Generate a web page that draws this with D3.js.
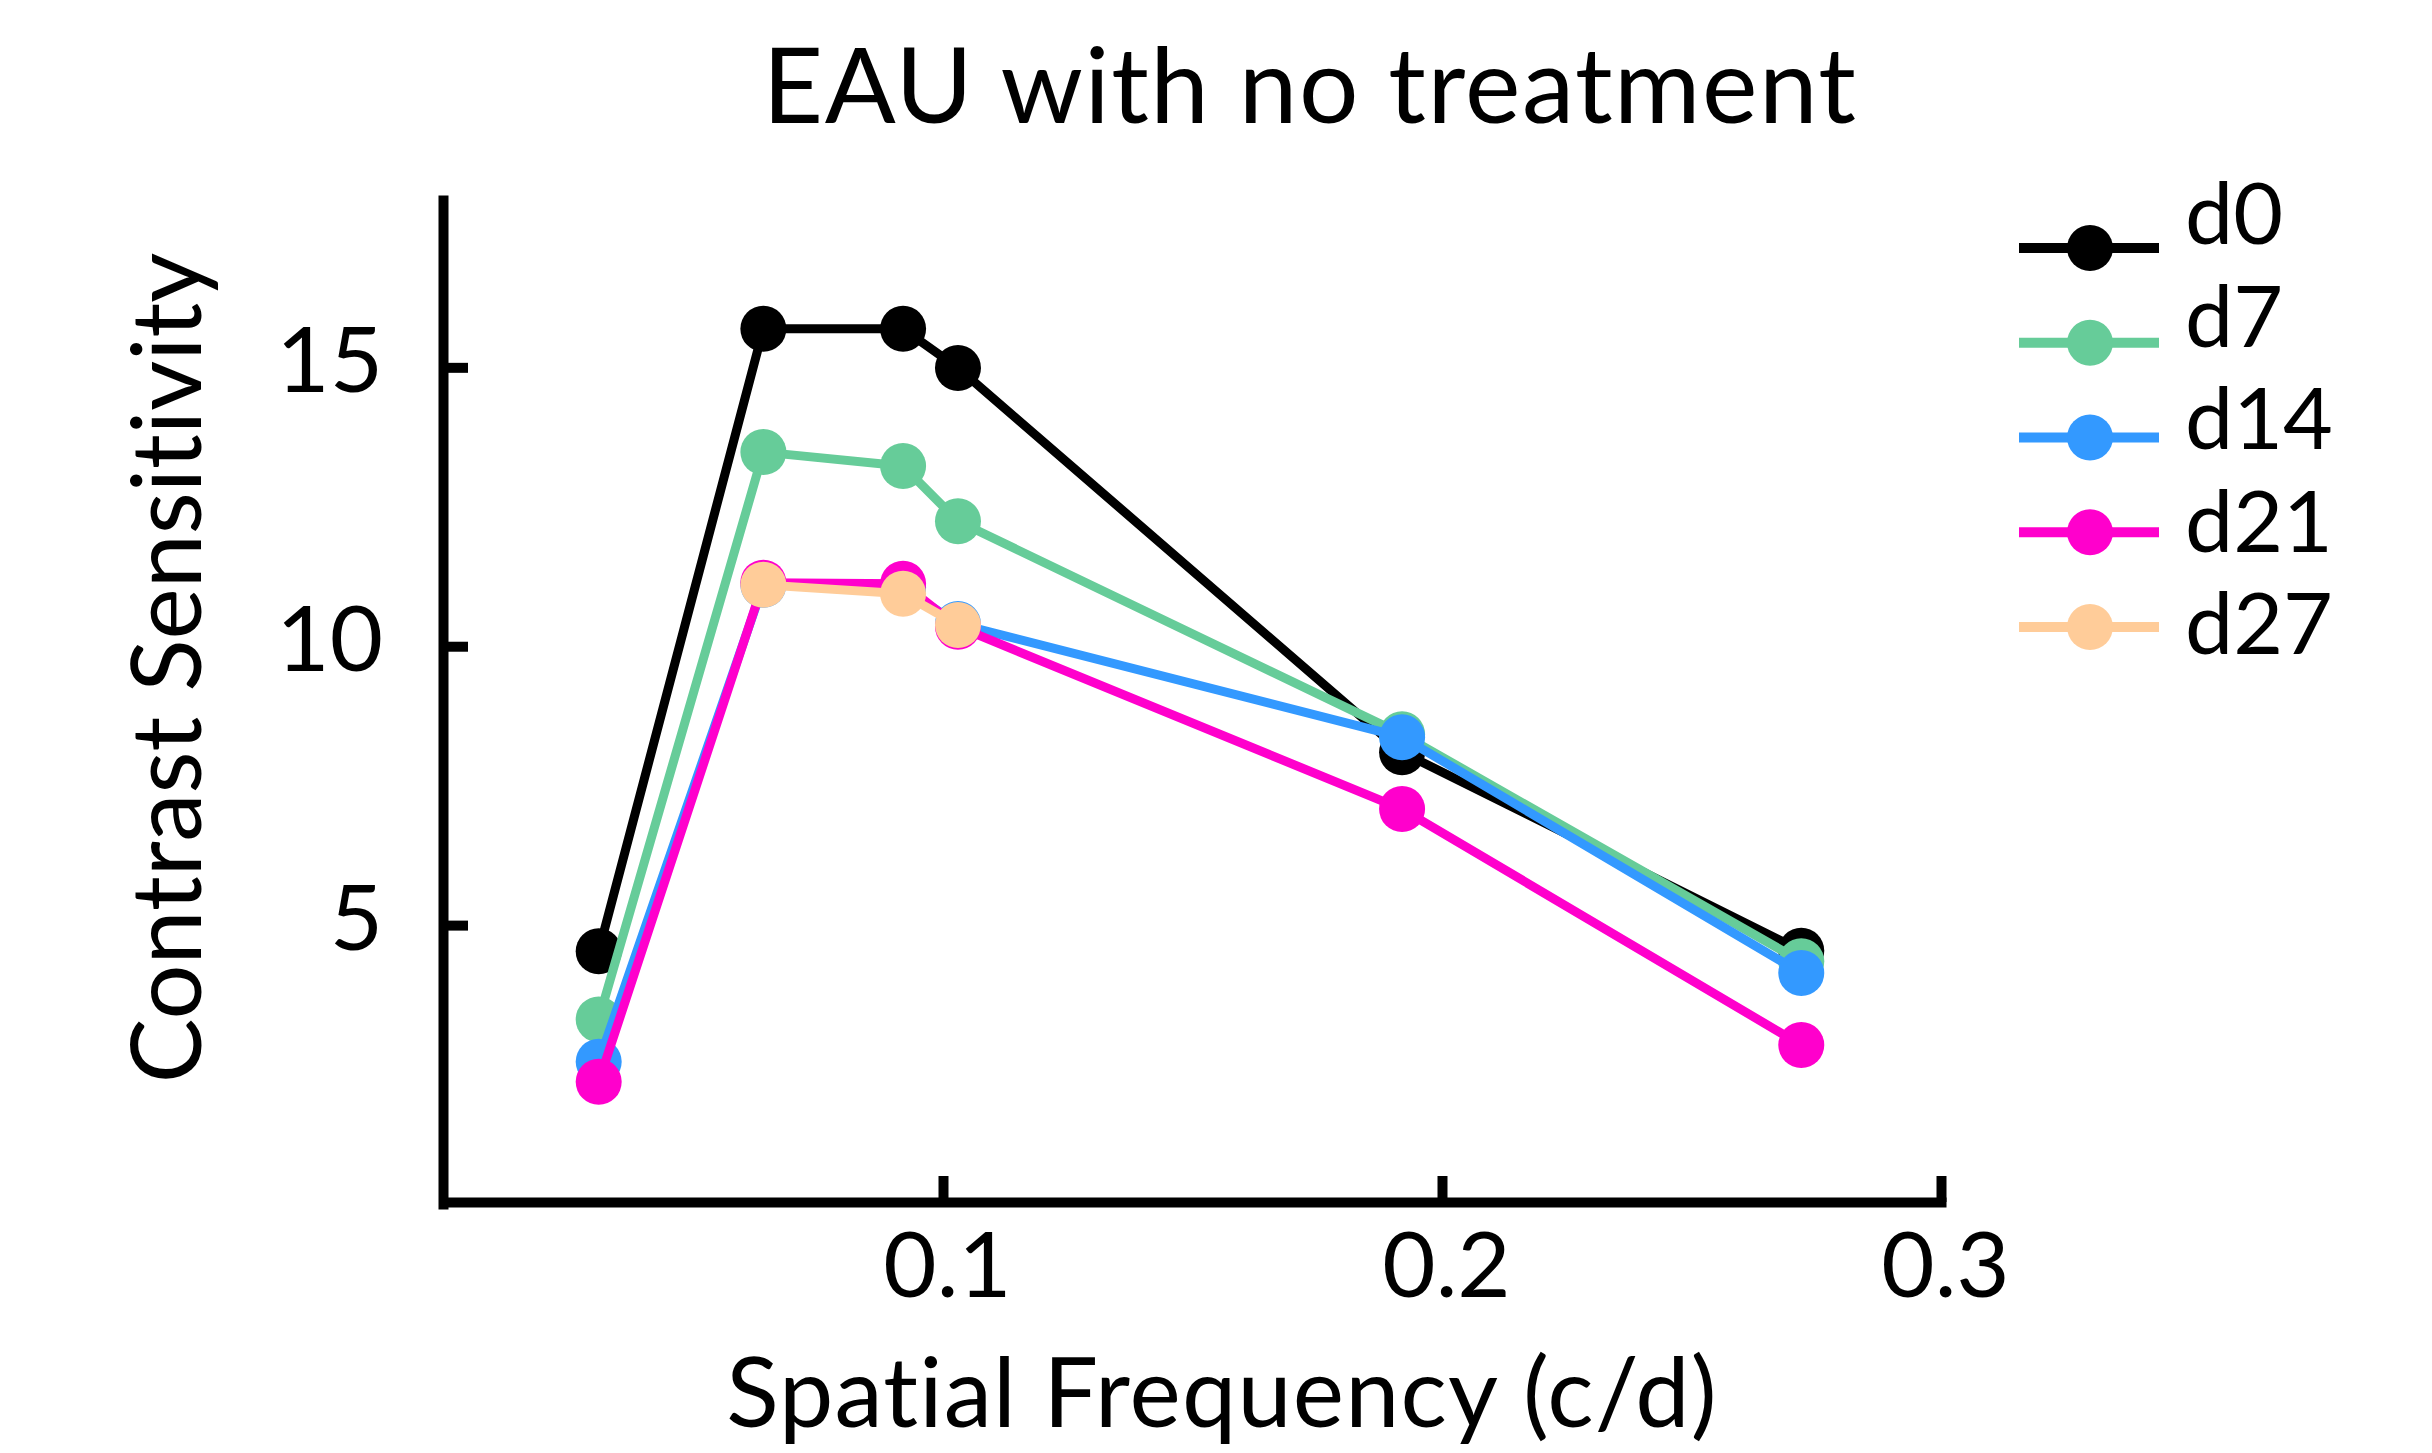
<!DOCTYPE html>
<html>
<head>
<meta charset="utf-8">
<script src="https://cdn.jsdelivr.net/npm/d3@7"></script>
<style>
  body { margin: 0; background: #fff; }
  svg text {
    font-family: Lato, "Open Sans", sans-serif;
    fill: #000;
    font-variant-ligatures: none;
    font-feature-settings: "liga" 0, "clig" 0;
  }
</style>
</head>
<body>
<div id="chart"></div>
<script>
// spatial frequencies (c/d) used by the optomotry test
let freqs = [0.031, 0.064, 0.092, 0.103, 0.192, 0.272];

let seriesNames = ["d0", "d7", "d14", "d21", "d27"];
let seriesColors = ["#000000", "#66CC99", "#3399FF", "#FF00CC", "#FFCC99"];

// contrast sensitivity per day, null where there was no measurement
let d0 = [4.53, 15.69, 15.69, 14.99, 8.10, 4.54];
let d7 = [3.31, 13.48, 13.23, 12.24, 8.42, 4.35];
let d14 = [2.55, 11.10, 11.05, 10.40, 8.37, 4.14];
let d21 = [2.19, 11.14, 11.12, 10.35, 7.08, 2.85];
let d27 = [null, 11.10, 10.94, 10.38, null, null];

let xTicks = [0.1, 0.2, 0.3];
let yTicks = [5, 10, 15];

let width = 2432,
    height = 1453;

let svg = d3.select("#chart").append("svg")
    .attr("width", width)
    .attr("height", height);

svg.append("rect")
    .attr("width", width)
    .attr("height", height)
    .attr("fill", "#fff");

let x = d3.scaleLinear().domain([0, 0.3]).range([444, 1941]);
let y = d3.scaleLinear().domain([0, 18]).range([1204, 200]);

// axes with inward ticks
let xAxis = svg.append("g")
    .attr("transform", `translate(0,${y(0) - 2})`)
    .call(d3.axisBottom(x).tickValues(xTicks).tickSize(-26).tickSizeOuter(0)
        .tickFormat(d3.format(".1f")).tickPadding(30));

let yAxis = svg.append("g")
    .attr("transform", `translate(${x(0) - 1},0)`)
    .call(d3.axisLeft(y).tickValues(yTicks).tickSize(-25).tickSizeOuter(0).tickPadding(60));

[xAxis, yAxis].forEach(ax => {
  ax.select(".domain")
    .attr("stroke", "#000")
    .attr("stroke-width", 10)
    .attr("stroke-linecap", "square");
  ax.selectAll(".tick line")
    .attr("stroke", "#000")
    .attr("stroke-width", 10);
  ax.selectAll(".tick text")
    .style("font-size", "92px")
    .attr("fill", "#000");
});

xAxis.selectAll(".tick text").attr("dy", "0.71em").attr("dx", 4);
yAxis.selectAll(".tick text").attr("dy", "0.26em");

// lines and markers
let allSeries = [d0, d7, d14, d21, d27];

let line = d3.line()
    .defined(d => d.v != null)
    .x(d => x(d.f))
    .y(d => y(d.v));

allSeries.forEach((vals, i) => {
  let pts = vals.map((v, j) => ({f: freqs[j], v: v}));
  let g = svg.append("g").attr("class", "series " + seriesNames[i]);

  g.append("path")
    .datum(pts)
    .attr("d", line)
    .attr("fill", "none")
    .attr("stroke", seriesColors[i])
    .attr("stroke-width", 9)
    .attr("stroke-linejoin", "round");

  g.selectAll("circle")
    .data(pts.filter(d => d.v != null))
    .enter()
    .append("circle")
    .attr("cx", d => x(d.f))
    .attr("cy", d => y(d.v))
    .attr("r", 23)
    .attr("fill", seriesColors[i]);
});

// legend
let legendX = 2019,
    legendTop = 248,
    legendGap = 94.75,
    labelTop = 244,
    labelGap = 102.5;

let legend = svg.append("g").attr("class", "legend");

seriesNames.forEach((name, i) => {
  let ly = legendTop + i * legendGap;
  legend.append("line")
    .attr("x1", legendX)
    .attr("x2", legendX + 140)
    .attr("y1", ly)
    .attr("y2", ly)
    .attr("stroke", seriesColors[i])
    .attr("stroke-width", 10);
  legend.append("circle")
    .attr("cx", legendX + 71)
    .attr("cy", ly)
    .attr("r", 23)
    .attr("fill", seriesColors[i]);
  legend.append("text")
    .attr("x", 2185)
    .attr("y", labelTop + i * labelGap)
    .style("font-size", "86px")
    .text(name);
});

// titles
svg.append("text")
    .attr("x", 1310)
    .attr("y", 123)
    .attr("text-anchor", "middle")
    .style("font-size", "105px")
    .style("letter-spacing", "1.5px")
    .text("EAU with no treatment");

svg.append("text")
    .attr("x", 1222)
    .attr("y", 1427)
    .attr("text-anchor", "middle")
    .style("font-size", "97px")
    .style("letter-spacing", "1.2px")
    .text("Spatial Frequency (c/d)");

svg.append("text")
    .attr("transform", "translate(201,668) rotate(-90)")
    .attr("text-anchor", "middle")
    .style("font-size", "97px")
    .text("Contrast Sensitivity");
</script>
</body>
</html>
